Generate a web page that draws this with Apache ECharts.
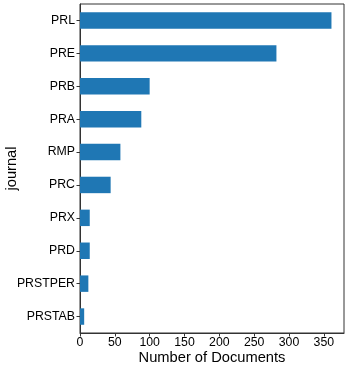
<!DOCTYPE html>
<html>
<head>
<meta charset="utf-8">
<script src="https://cdn.jsdelivr.net/npm/echarts@6/dist/echarts.min.js"></script>
<style>
  html, body { margin: 0; padding: 0; background: #fff; }
  #chart { width: 349px; height: 368px; }
</style>
</head>
<body>
<div id="chart"></div>
<script>
// journals, bottom to top (category axis starts at the bottom)
const journals = ['PRSTAB', 'PRSTPER', 'PRD', 'PRX', 'PRC', 'RMP', 'PRA', 'PRB', 'PRE', 'PRL'];
const docCounts = [6, 12, 14, 14, 44, 58, 88, 100, 282, 361];
const xTicks = [0, 50, 100, 150, 200, 250, 300, 350];

const font = 'Liberation Sans, Arial, sans-serif';
const chart = echarts.init(document.getElementById('chart'));

chart.setOption({
  animation: false,
  grid: {
    left: 80, right: 5, top: 4, bottom: 35,
    outerBoundsMode: 'none',
    containLabel: false,
    show: true, borderColor: '#333', borderWidth: 1, backgroundColor: 'transparent'
  },
  xAxis: {
    type: 'value',
    min: 0,
    max: 379,
    name: 'Number of Documents',
    nameLocation: 'middle',
    nameGap: 25,
    nameMoveOverlap: false,
    nameTextStyle: { color: '#000', fontSize: 14.7, fontFamily: font, verticalAlign: 'middle' },
    axisLine: { show: true, lineStyle: { color: '#333' } },
    axisTick: { show: true, length: 3.5, customValues: xTicks, lineStyle: { color: '#333' } },
    axisLabel: { color: '#000', fontSize: 12.3, fontFamily: font, margin: 4, customValues: xTicks },
    splitLine: { show: false }
  },
  yAxis: {
    type: 'category',
    data: journals,
    name: 'journal',
    nameLocation: 'middle',
    nameGap: 68,
    nameRotate: 90,
    nameMoveOverlap: false,
    nameTextStyle: { color: '#000', fontSize: 14.7, fontFamily: font, verticalAlign: 'middle' },
    axisLine: { show: true, lineStyle: { color: '#333' } },
    axisTick: { show: true, length: 3.5, alignWithLabel: true, lineStyle: { color: '#333' } },
    axisLabel: { color: '#000', fontSize: 12.3, fontFamily: font, margin: 5 }
  },
  series: [{
    type: 'bar',
    data: docCounts,
    barCategoryGap: '50%',
    itemStyle: { color: '#1f77b4' }
  }]
});
</script>
</body>
</html>
